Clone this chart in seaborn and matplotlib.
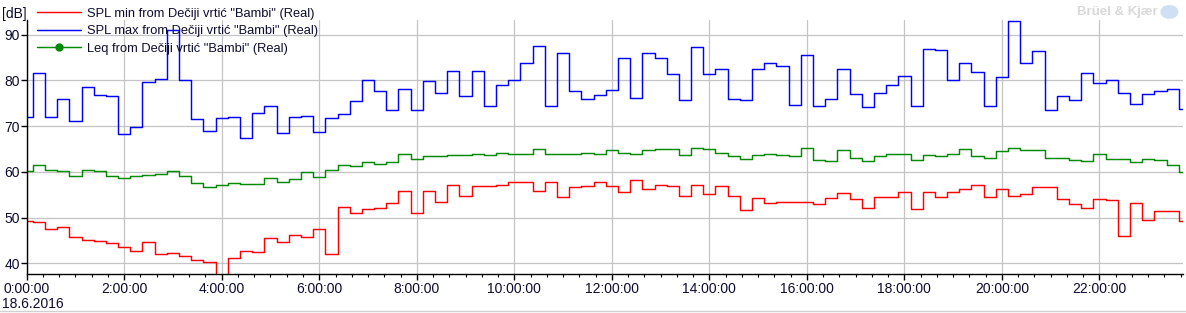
import numpy as np
import pandas as pd
import matplotlib
matplotlib.use("Agg")
import matplotlib.pyplot as plt
import seaborn as sns
from matplotlib.lines import Line2D
from matplotlib.ticker import MultipleLocator, FuncFormatter
from matplotlib.patches import Ellipse

# ---- data: 15-minute values from 0:00 to 23:45 ----
spl_min = [49.2, 49.0, 47.6, 47.9, 45.7, 45.2, 44.8, 44.4, 43.5, 42.8,
           44.6, 42.0, 42.2, 41.7, 40.7, 40.2, 36.5, 41.1, 42.6, 42.4,
           45.5, 44.6, 46.1, 45.7, 47.6, 42.0, 52.4, 50.9, 51.8, 52.2,
           53.3, 55.9, 50.9, 55.9, 53.5, 57.2, 54.8, 56.8, 56.8, 57.2,
           57.7, 57.7, 55.9, 57.7, 54.4, 56.6, 56.8, 57.7, 57.0, 55.7,
           58.3, 56.2, 57.2, 57.0, 54.8, 57.2, 55.1, 56.8, 54.8, 51.6,
           54.2, 53.3, 53.5, 53.5, 53.5, 52.9, 54.2, 55.3, 54.0, 52.0,
           54.4, 54.6, 55.7, 51.8, 55.5, 54.4, 55.5, 56.2, 57.2, 54.6,
           56.2, 54.8, 55.1, 56.6, 56.6, 54.0, 52.9, 52.0, 54.0, 53.8,
           45.9, 53.3, 49.4, 51.4, 51.4, 49.2]
spl_max = [71.9, 81.6, 71.9, 76.0, 71.2, 78.6, 76.9, 76.5, 68.2, 69.7,
           79.6, 80.3, 91.1, 80.0, 71.5, 69.0, 71.7, 71.9, 67.5, 72.8,
           74.3, 68.4, 72.0, 72.3, 68.8, 71.7, 72.6, 75.4, 80.0, 77.7,
           73.5, 78.2, 73.5, 79.8, 77.3, 82.1, 76.5, 82.1, 74.5, 79.1,
           80.0, 83.9, 87.6, 74.5, 85.9, 77.6, 76.0, 76.7, 78.0, 84.8,
           76.2, 85.9, 84.8, 81.3, 75.8, 87.2, 81.3, 82.4, 76.0, 75.8,
           82.4, 83.7, 83.2, 74.7, 85.6, 74.5, 76.0, 82.4, 77.1, 74.1,
           77.3, 79.1, 81.0, 74.5, 86.9, 86.7, 80.0, 83.9, 81.9, 74.5,
           80.8, 92.9, 83.7, 86.5, 73.6, 76.5, 75.8, 81.7, 79.5, 80.0,
           77.3, 74.9, 77.1, 77.6, 78.2, 73.8]
leq = [60.1, 61.4, 60.3, 60.1, 59.2, 60.5, 60.1, 59.2, 58.6, 59.2,
       59.3, 59.5, 60.1, 59.0, 57.5, 56.6, 57.1, 57.5, 57.3, 57.3,
       58.6, 57.7, 58.4, 59.9, 58.8, 60.5, 61.4, 61.3, 62.1, 61.8,
       62.1, 64.0, 62.9, 63.4, 63.4, 63.6, 63.6, 64.0, 63.6, 64.2,
       64.0, 63.8, 65.1, 64.0, 64.0, 64.0, 64.2, 63.8, 64.7, 64.2,
       64.0, 64.7, 64.9, 64.9, 63.6, 65.3, 64.9, 64.2, 63.4, 62.9,
       63.6, 64.0, 63.7, 63.4, 65.3, 62.5, 62.3, 64.7, 63.1, 62.3,
       63.4, 64.0, 63.8, 62.5, 63.6, 63.4, 63.8, 65.1, 63.4, 63.1,
       64.5, 65.3, 64.7, 64.7, 63.1, 63.1, 62.7, 62.3, 63.8, 62.9,
       62.9, 62.1, 62.9, 62.5, 61.6, 59.9]
hours = [i * 0.25 for i in range(96)]

labels = ['SPL min from Dečiji vrtić "Bambi" (Real)',
          'SPL max from Dečiji vrtić "Bambi" (Real)',
          'Leq from Dečiji vrtić "Bambi" (Real)']
colors = ["#ff0000", "#0000ff", "#008a00"]
y_ticks = [40, 50, 60, 70, 80, 90]
date_label = "18.6.2016"

df = pd.concat([
    pd.DataFrame({"t": hours, "dB": spl_min, "series": labels[0]}),
    pd.DataFrame({"t": hours, "dB": spl_max, "series": labels[1]}),
    pd.DataFrame({"t": hours, "dB": leq, "series": labels[2]}),
])

sns.set_theme(style="white")
plt.rcParams["font.family"] = ["Liberation Sans", "DejaVu Sans"]

fig = plt.figure(figsize=(11.86, 3.13), dpi=100)
ax = fig.add_axes([0.0225, 0.1236, 0.975, 0.811])

sns.lineplot(data=df, x="t", y="dB", hue="series", palette=dict(zip(labels, colors)),
             drawstyle="steps-mid", linewidth=1.05, errorbar=None, ax=ax,
             legend=False, sort=False)

ax.set_xlim(0, 23.714)
ax.set_ylim(37.6, 93.1)
ax.set_xlabel("")
ax.set_ylabel("")
ax.set_yticks(y_ticks)
ax.xaxis.set_major_locator(MultipleLocator(2))
ax.xaxis.set_minor_locator(MultipleLocator(1 / 3))
ax.xaxis.set_major_formatter(FuncFormatter(lambda v, p: f"{int(round(v))}:00:00"))
ax.grid(True, which="major", color="#c4c4c4", linewidth=0.9)
for s in ["top", "right"]:
    ax.spines[s].set_visible(False)
for s in ["left", "bottom"]:
    ax.spines[s].set_color("black")
    ax.spines[s].set_linewidth(1.0)
ax.tick_params(axis="x", which="major", direction="out", length=4, width=1,
               color="black", pad=1.5, labelsize=10, labelcolor="#0c0c30", bottom=True)
ax.tick_params(axis="x", which="minor", direction="out", length=2.5, width=0.8,
               color="black", bottom=True)
ax.tick_params(axis="y", which="major", direction="out", length=4, width=1,
               color="black", pad=1, labelsize=10, labelcolor="#0c0c30", left=True)

handles = [Line2D([], [], color=colors[0], lw=1.05),
           Line2D([], [], color=colors[1], lw=1.05),
           Line2D([], [], color=colors[2], lw=1.05, marker="o", markersize=5,
                  markevery=[0])]
leg = ax.legend(handles, labels, loc="upper left", bbox_to_anchor=(0.0089, 1.050),
                frameon=False, fontsize=9.3, handlelength=3.4, handletextpad=0.46,
                labelspacing=0.42, borderaxespad=0.0, borderpad=0.0,
                labelcolor="#0c0c30")
ax.set_zorder(2)

fig.text(0.002, 0.955, "[dB]", fontsize=10, color="#0c0c30", va="center", ha="left")
fig.text(0.002, 0.030, date_label, fontsize=10, color="#0c0c30", va="center", ha="left")
fig.text(0.976, 0.962, "Brüel & Kjær", fontsize=9.5, fontweight="bold", color="#d9d9d9",
         va="center", ha="right")
fig.add_artist(Ellipse((0.986, 0.962), 0.014, 0.04, transform=fig.transFigure,
                       color="#cfe0f5", zorder=0))
fig.add_artist(Line2D([0, 1], [0.005, 0.005], transform=fig.transFigure,
                      color="#d0d0d0", lw=1))

fig.savefig("out.png", dpi=100)
